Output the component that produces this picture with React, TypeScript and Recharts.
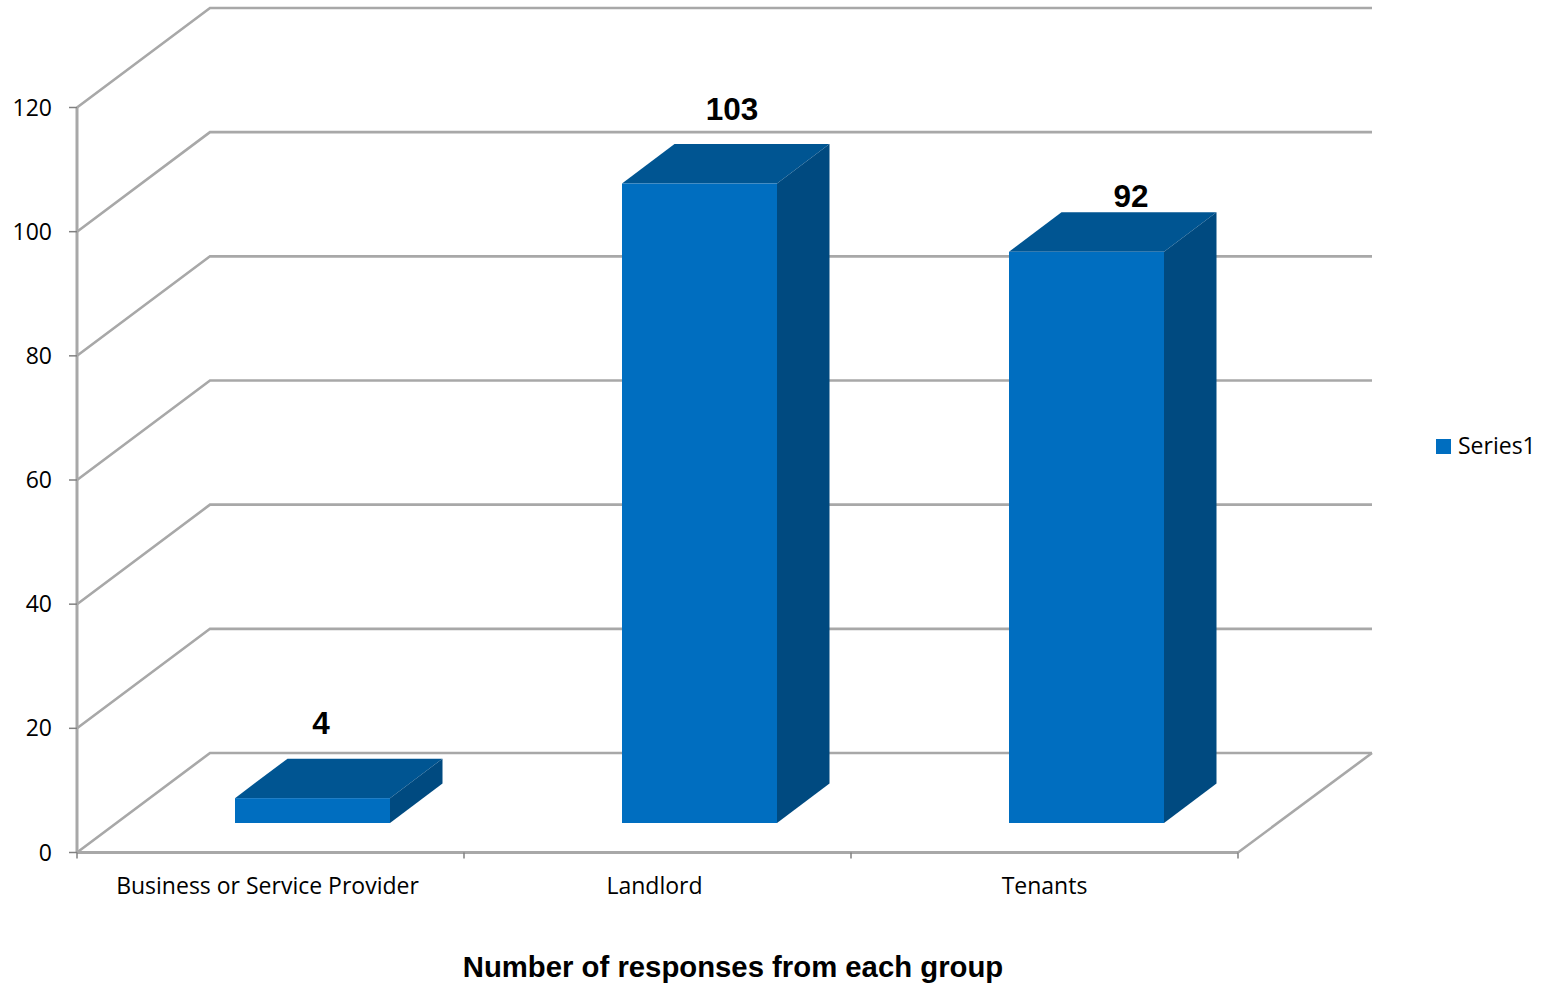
import React from "react";
import { Bar, BarChart, CartesianGrid, Label, LabelList, Legend, XAxis, YAxis } from "recharts";

// Survey responses per group
const groups = ["Business or Service Provider", "Landlord", "Tenants"];
const responses = [4, 103, 92];
const valueTicks = [0, 20, 40, 60, 80, 100, 120];

const rows = groups.map((group, i) => ({ group, Series1: responses[i] }));

// Hand placed labels, relative to the bar's front face or the band centre
const labelShiftX = [8.5, 32.5, 44.5];
const labelLift = [75, 75, 56];
const categoryShiftX = [-3, -3, 0];

const CHART_W = 1552;
const CHART_H = 985;
const MARGIN = { top: 107.5, right: 314, bottom: 4.5, left: 17 };
const AXIS_W = 60;
const AXIS_H = 128;
const PLOT_LEFT = MARGIN.left + AXIS_W;
const PLOT_RIGHT = CHART_W - MARGIN.right;
const PLOT_BOTTOM = CHART_H - MARGIN.bottom - AXIS_H;
const HALF_BAND = (PLOT_RIGHT - PLOT_LEFT) / groups.length / 2;

// Oblique projection of the chart box and of each column
const WALL_DX = 134;
const WALL_DY = 99.5;
const BAR_SHIFT_X = 42;
const BAR_SHIFT_Y = 29.5;
const BAR_DX = 52.5;
const BAR_DY = 39.5;

const GRID = "#A8A8A8";
const TICK = "#808080";
const FRONT = "#006EC0";
const TOP = "#005592";
const SIDE = "#004A80";
const TEXT_FONT = "'Open Sans', sans-serif";
const BOLD_FONT = "'Liberation Sans', Arial, sans-serif";

// Each grid line runs back along the left wall, then across the back wall
function WallLine(props: any) {
  const { x1, y1, x2 } = props;
  const isFloor = Math.abs(y1 - PLOT_BOTTOM) < 1;
  const backX = x1 + 133;
  const backY = y1 - WALL_DY;
  const backRight = x2 + WALL_DX;
  return (
    <g key={props.key ?? y1} fill="none" stroke={GRID} strokeWidth={2.6}>
      <path d={`M${x1},${y1} L${backX},${backY} L${backRight},${backY}`} />
      {isFloor && <path d={`M${x2},${y1} L${backRight},${backY}`} />}
    </g>
  );
}

function Column3D(props: any) {
  const { x, y, width, height } = props;
  const l = x + BAR_SHIFT_X;
  const t = y - BAR_SHIFT_Y;
  const r = l + width;
  const b = t + height;
  return (
    <g>
      <polygon
        points={`${l},${t} ${l + BAR_DX},${t - BAR_DY} ${r + BAR_DX},${t - BAR_DY} ${r},${t}`}
        fill={TOP}
      />
      <polygon
        points={`${r},${t} ${r + BAR_DX},${t - BAR_DY} ${r + BAR_DX},${b - BAR_DY} ${r},${b}`}
        fill={SIDE}
      />
      <rect x={l} y={t} width={width} height={height} fill={FRONT} />
    </g>
  );
}

function ValueLabel(props: any) {
  const { x, y, width, value, index } = props;
  return (
    <text
      x={x + BAR_SHIFT_X + width / 2 + labelShiftX[index]}
      y={y - BAR_SHIFT_Y - labelLift[index]}
      textAnchor="middle"
      dominantBaseline="central"
      fontFamily={BOLD_FONT}
      fontWeight="bold"
      fontSize={31.5}
      fill="#000"
    >
      {value}
    </text>
  );
}

// Category label plus the tick marks that sit on the band edges
function CategoryTick(props: any) {
  const { x, payload, index } = props;
  const left = x - HALF_BAND;
  const right = x + HALF_BAND;
  const isLast = index === groups.length - 1;
  const top = PLOT_BOTTOM;
  return (
    <g>
      <line x1={left} x2={left} y1={top} y2={top + 6} stroke={TICK} strokeWidth={1.5} />
      {isLast && <line x1={right} x2={right} y1={top} y2={top + 6} stroke={TICK} strokeWidth={1.5} />}
      <text
        x={x + categoryShiftX[index]}
        y={top + 32.5}
        textAnchor="middle"
        dominantBaseline="central"
        fontFamily={TEXT_FONT}
        fontSize={23}
        fill="#000"
      >
        {payload.value}
      </text>
    </g>
  );
}

function SeriesKey(props: any) {
  const entry = props.payload?.[0];
  if (!entry) return null;
  return (
    <div style={{ display: "flex", alignItems: "center", height: 30, lineHeight: "30px" }}>
      <span style={{ width: 15, height: 15, background: FRONT, marginRight: 7 }} />
      <span style={{ color: "#000", fontFamily: TEXT_FONT, fontSize: 23, position: "relative", top: -1 }}>
        {entry.value}
      </span>
    </div>
  );
}

export default function App() {
  return (
    <div style={{ position: "absolute", left: 0, top: 0, width: CHART_W, height: CHART_H, background: "#fff" }}>
      <BarChart width={CHART_W} height={CHART_H} data={rows} margin={MARGIN} barSize={155}>
        <CartesianGrid vertical={false} horizontal={WallLine as any} />
        <XAxis
          dataKey="group"
          height={AXIS_H}
          interval={0}
          tickLine={false}
          axisLine={{ stroke: GRID, strokeWidth: 3.2 }}
          tick={CategoryTick as any}
        >
          <Label
            value="Number of responses from each group"
            position="insideBottom"
            offset={4}
            dx={75.5}
            fontFamily={BOLD_FONT}
            fontWeight="bold"
            fontSize={29.3}
            fill="#000"
          />
        </XAxis>
        <YAxis
          width={AXIS_W}
          domain={[0, 120]}
          ticks={valueTicks}
          interval={0}
          axisLine={{ stroke: GRID, strokeWidth: 3 }}
          tickLine={{ stroke: TICK, strokeWidth: 1.5 }}
          tickSize={8}
          tickMargin={17}
          tick={{ fontFamily: TEXT_FONT, fontSize: 23, fill: "#000" }}
        />
        <Legend
          layout="horizontal"
          align="center"
          verticalAlign="middle"
          wrapperStyle={{ position: "absolute", left: 1436, top: 431, width: 116, right: "auto", bottom: "auto" }}
          content={SeriesKey as any}
        />
        <Bar dataKey="Series1" fill={FRONT} shape={Column3D as any} isAnimationActive={false}>
          <LabelList dataKey="Series1" content={ValueLabel as any} />
        </Bar>
      </BarChart>
    </div>
  );
}
